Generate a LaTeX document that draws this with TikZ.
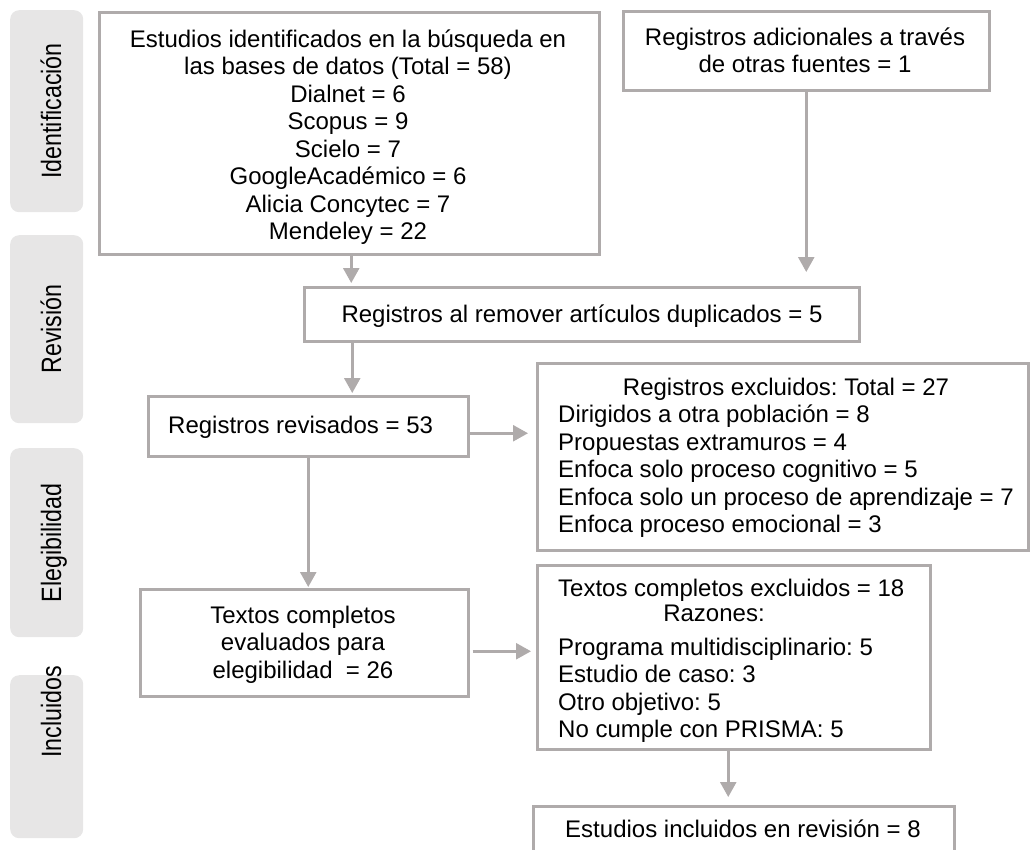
\documentclass[tikz,border=0pt]{standalone}
\usepackage{fontspec}
\setmainfont{Liberation Sans}
\usetikzlibrary{arrows.meta}
\definecolor{bord}{HTML}{AFABAB}
\definecolor{labfill}{HTML}{E7E6E6}
\frenchspacing
\begin{document}
\begin{tikzpicture}[x=1pt,y=-1pt,
  txt/.style={font=\fontsize{24}{27.5}\selectfont\frenchspacing, text=black, inner sep=0pt},
  box/.style={draw=bord, line width=2.5pt, fill=white, inner sep=0pt, anchor=north west},
  labbox/.style={fill=labfill, rounded corners=9pt, inner sep=0pt, anchor=north west, minimum width=73pt},
  labtxt/.style={font=\fontsize{28}{32}\selectfont, rotate=90, anchor=base, inner sep=0pt},
  arr/.style={draw=bord, line width=2.5pt, -{Triangle[length=15pt,width=16pt]}},
]
\useasboundingbox (0,0) rectangle (1030,849);
\clip (0,0) rectangle (1030,849);

% stage labels
\node[labbox, minimum height=202pt] (L1) at (10,10) {};
\node[labbox, minimum height=188pt] (L2) at (10,235) {};
\node[labbox, minimum height=189pt] (L3) at (10,448) {};
\node[labbox, minimum height=163pt] (L4) at (10,675) {};
\node[labtxt] (l1) at (61,111) {\scalebox{0.83}[1]{Identificación}};
\node[labtxt] (l2) at (61,329) {\scalebox{0.83}[1]{Revisión}};
\node[labtxt] (l3) at (61,543) {\scalebox{0.83}[1]{Elegibilidad}};
\node[labtxt] (l4) at (61,712) {\scalebox{0.83}[1]{Incluidos}};

% boxes
\node[box, minimum width=500pt, minimum height=242pt] (A) at (98,11) {};
\node[box, minimum width=366pt, minimum height=79pt] (B) at (622,10) {};
\node[box, minimum width=555pt, minimum height=54pt] (D) at (303,286) {};
\node[box, minimum width=320pt, minimum height=60pt] (E) at (147,395) {};
\node[box, minimum width=491pt, minimum height=187pt] (F) at (536,362) {};
\node[box, minimum width=328pt, minimum height=107pt] (G) at (139,588) {};
\node[box, minimum width=393pt, minimum height=184pt] (H) at (536,564) {};
\node[box, minimum width=421pt, minimum height=80pt] (I) at (532,805) {};

% texts
\node[txt, anchor=base] (tA) at (348,47) {\begin{tabular}[t]{@{}c@{}}Estudios identificados en la búsqueda en\\ las bases de datos (Total = 58)\\ Dialnet = 6\\ Scopus = 9\\ Scielo = 7\\ GoogleAcadémico = 6\\ Alicia Concytec = 7\\ Mendeley = 22\end{tabular}};
\node[txt, anchor=base] (tB) at (805,45) {\begin{tabular}[t]{@{}c@{}}Registros adicionales a través\\ de otras fuentes = 1\end{tabular}};
\node[txt, anchor=base] (tD) at (582,322) {Registros al remover artículos duplicados = 5};
\node[txt, anchor=base west] (tE) at (168,433) {Registros revisados = 53};
\node[txt, anchor=base west] (tF) at (558,395) {\begin{tabular}[t]{@{}l@{}}\multicolumn{1}{@{}c@{}}{Registros excluidos: Total = 27}\\ Dirigidos a otra población = 8\\ Propuestas extramuros = 4\\ Enfoca solo proceso cognitivo = 5\\ Enfoca solo un proceso de aprendizaje = 7\\ Enfoca proceso emocional = 3\end{tabular}};
\node[txt, anchor=base] (tG) at (303,623) {\begin{tabular}[t]{@{}c@{}}Textos completos\\ evaluados para\\ elegibilidad\ \ = 26\end{tabular}};
\node[txt, anchor=base west] (tH1) at (558,596) {Textos completos excluidos = 18};
\node[txt, anchor=base] (tH2) at (714,621) {Razones:};
\node[txt, anchor=base west] (tH3) at (558,655) {\begin{tabular}[t]{@{}l@{}}Programa multidisciplinario: 5\\ Estudio de caso: 3\\ Otro objetivo: 5\\ No cumple con PRISMA: 5\end{tabular}};
\node[txt, anchor=base] (tI) at (743,837) {Estudios incluidos en revisión = 8};

% arrows
\draw[arr, shorten >=3pt] ([xshift=2pt]A.south) -- ([xshift=2pt]A.south |- D.north);
\draw[arr, shorten >=14pt] (B.south) -- (B.south |- D.north);
\draw[arr, shorten >=2pt] ([xshift=44pt]E.north |- D.south) -- ([xshift=44pt]E.north);
\draw[arr, shorten >=8pt] ([yshift=-7pt]E.east) -- ([yshift=-7pt]E.east -| F.west);
\draw[arr, shorten >=1pt] (E.south) -- (E.south |- G.north);
\draw[arr, shorten <=3pt, shorten >=5pt] ([yshift=-8.5pt]G.east) -- ([yshift=-8.5pt]G.east -| H.west);
\draw[arr, shorten >=8pt] ([xshift=-5.5pt]H.south) -- ([xshift=-5.5pt]H.south |- I.north);
\end{tikzpicture}
\end{document}
